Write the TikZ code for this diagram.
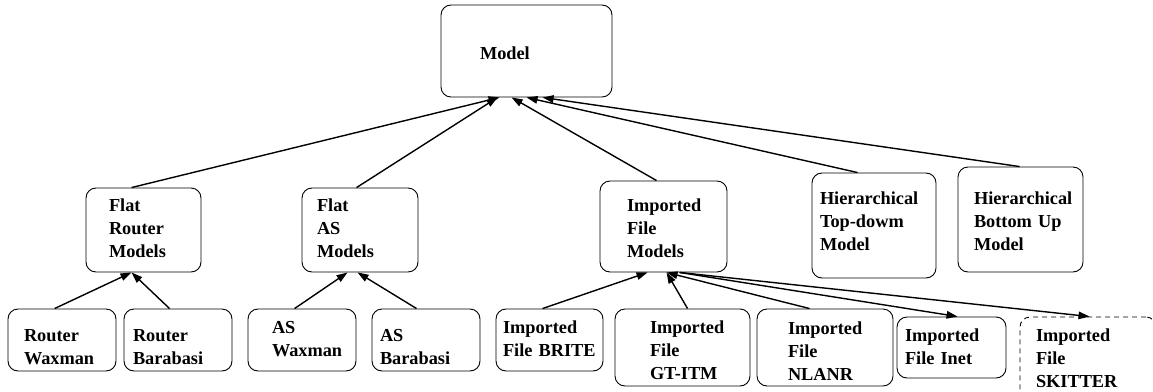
\documentclass[tikz,border=0pt]{standalone}
\usepackage{fontspec}
\setmainfont{Liberation Serif}
\usetikzlibrary{arrows.meta}
\hyphenpenalty=10000
\exhyphenpenalty=10000
\begin{document}
\begin{tikzpicture}[x=1pt,y=-1pt,
    box/.style={draw, line width=0.9pt, rounded corners=10pt, inner sep=0pt, align=left,
        font=\fontsize{18.3}{23}\selectfont\bfseries},
    arr/.style={line width=1.4pt, -{Triangle[length=11pt,width=7.5pt]}}]
    \useasboundingbox (0,0) rectangle (1153,391);
    \node[box, minimum width=171pt, minimum height=92pt, text width=93pt, text height=54pt, text depth=38pt] (model) at (526.5,51) {Model};
    \node[box, minimum width=115pt, minimum height=84pt, text width=69pt, text height=23pt, text depth=61pt] (flatR) at (143.5,230) {Flat\\Router\\Models};
    \node[box, minimum width=116pt, minimum height=84pt, text width=86pt, text height=23pt, text depth=61pt] (flatAS) at (360,230) {Flat\\AS\\Models};
    \node[box, minimum width=127pt, minimum height=91pt, text width=73pt, text height=30pt, text depth=61pt] (imp) at (663.5,226.5) {Imported\\File\\Models};
    \node[box, minimum width=124pt, minimum height=105pt, text width=108pt, text height=31pt, text depth=74pt] (hierTD) at (874,225.5) {Hierarchical\\Top-dowm\\Model};
    \node[box, minimum width=125pt, minimum height=105pt, text width=93pt, text height=37pt, text depth=68pt] (hierBU) at (1020.5,219.5) {Hierarchical\\Bottom~Up\\Model};
    \node[box, minimum width=108pt, minimum height=62pt, text width=76pt, text height=32pt, text depth=30pt] (rW) at (62,340) {Router\\Waxman};
    \node[box, minimum width=108pt, minimum height=62pt, text width=90pt, text height=32pt, text depth=30pt] (rB) at (178,340) {Router\\Barabasi};
    \node[box, minimum width=108pt, minimum height=62pt, text width=60pt, text height=24pt, text depth=38pt] (asW) at (302,340) {AS\\Waxman};
    \node[box, minimum width=108pt, minimum height=62pt, text width=92pt, text height=32pt, text depth=30pt] (asB) at (426,340) {AS\\Barabasi};
    \node[box, minimum width=107pt, minimum height=62pt, text width=93pt, text height=24pt, text depth=38pt] (brite) at (549.5,340) {Imported\\File~BRITE};
    \node[box, minimum width=135pt, minimum height=77pt, text width=65pt, text height=24pt, text depth=53pt] (gtitm) at (682.5,347.5) {Imported\\File\\\mbox{GT-ITM}};
    \node[box, minimum width=136pt, minimum height=77pt, text width=74pt, text height=25pt, text depth=52pt] (nlanr) at (825,347.5) {Imported\\File\\NLANR};
    \node[box, minimum width=109pt, minimum height=61pt, text width=93pt, text height=24pt, text depth=37pt] (inet) at (951.5,347.5) {Imported\\File~Inet};
    \node[box, dash pattern=on 5pt off 4pt, minimum width=136pt, minimum height=83pt, text width=104pt, text height=24pt, text depth=59pt] (skitter) at (1088,358.5) {Imported\\File\\SKITTER};
    \draw[arr] ([xshift=46pt]flatR.north west) -- ([xshift=59pt]model.south west);
    \draw[arr] ([xshift=55pt]flatAS.north west) -- ([xshift=57pt]model.south west);
    \draw[arr] ([xshift=57pt]imp.north west) -- ([xshift=71pt]model.south west);
    \draw[arr] ([xshift=46pt]hierTD.north west) -- ([xshift=86pt]model.south west);
    \draw[arr] ([xshift=62pt]hierBU.north west) -- ([xshift=102pt]model.south west);
    \draw[arr] ([xshift=47pt]rW.north west) -- ([xshift=46pt]flatR.south west);
    \draw[arr] ([xshift=46pt]rB.north west) -- ([xshift=46pt]flatR.south west);
    \draw[arr] ([xshift=47pt]asW.north west) -- ([xshift=46pt]flatAS.south west);
    \draw[arr] ([xshift=45pt]asB.north west) -- ([xshift=56pt]flatAS.south west);
    \draw[arr] ([xshift=47pt]brite.north west) -- ([xshift=48pt]imp.south west);
    \draw[arr] ([xshift=73pt]gtitm.north west) -- ([xshift=67pt]imp.south west);
    \draw[arr] ([xshift=53pt]nlanr.north west) -- ([xshift=67pt]imp.south west);
    \draw[arr] ([xshift=80pt]imp.south west) -- ([xshift=61pt]inet.north west);
    \draw[arr] ([xshift=80pt]imp.south west) -- ([xshift=70pt]skitter.north west);
\end{tikzpicture}
\end{document}
